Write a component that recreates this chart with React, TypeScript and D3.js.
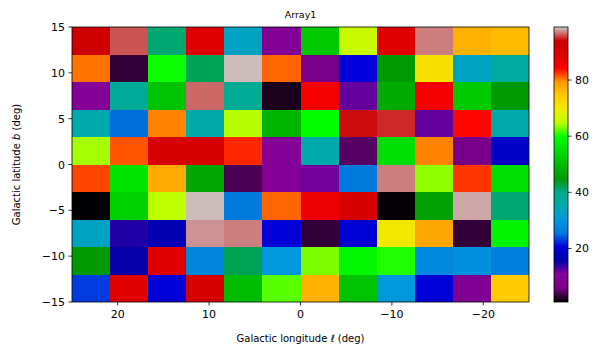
import React from "react";
import * as d3 from "d3";

// ---- data ----
const title = "Array1";
const xLabel = "Galactic longitude \u2113 (deg)";
const yLabel = "Galactic latitude b (deg)";
const lonRange = [25, -25];
const latRange = [-15, 15];
const xTicks = [20, 10, 0, -10, -20];
const yTicks = [-15, -10, -5, 0, 5, 10, 15];
const cbTicks = [20, 40, 60, 80];
const vmin = 0.94;
const vmax = 98.9;
// rows from top (b = 15) to bottom (b = -15); columns from l = 25 to l = -25
const grid: number[][] = [
  [93, 96, 41, 89, 33, 9, 52, 66, 89, 97, 77, 76],
  [80.5, 3, 60, 42, 98.5, 81, 6, 20.5, 45, 71.5, 33, 37],
  [10, 38, 51, 96.5, 38.5, 2, 86, 12, 47.5, 86, 52, 45],
  [35, 25, 80, 35.5, 64.5, 49, 59.5, 94.3, 95, 12, 84, 35],
  [64, 81.5, 91, 91.5, 83, 10, 35, 4.5, 55, 80, 6, 18.5],
  [82, 56, 77.5, 47, 4, 10, 11.5, 26, 97, 63.5, 82.5, 55],
  [1, 53, 65, 98.5, 26, 81, 87, 91, 1.2, 46, 98, 41],
  [33, 14.5, 16.5, 97.5, 97, 20, 3, 19.5, 70.5, 78, 3, 58],
  [45, 15.5, 88.5, 27.5, 42, 30, 63, 58.5, 60.5, 28, 29, 26.5],
  [23, 88.5, 20, 91, 50, 62, 77, 51, 30, 20, 8.5, 74.5],
];

// nipy_spectral colormap stops
const cmapPos = [0, 0.05, 0.1, 0.15, 0.2, 0.25, 0.3, 0.35, 0.4, 0.45, 0.5, 0.55, 0.6, 0.65, 0.7, 0.75, 0.8, 0.85, 0.9, 0.95, 1.0];
const cmapR = [0, 0.4667, 0.5333, 0, 0, 0, 0, 0, 0, 0, 0, 0, 0, 0.7333, 0.9333, 1, 1, 1, 0.8667, 0.8, 0.8];
const cmapG = [0, 0, 0, 0, 0, 0.4667, 0.6, 0.6667, 0.6667, 0.6, 0.7333, 0.8667, 1, 1, 0.9333, 0.8, 0.6, 0, 0, 0, 0.8];
const cmapB = [0, 0.5333, 0.6, 0.6667, 0.8667, 0.8667, 0.8667, 0.6667, 0.5333, 0, 0, 0, 0, 0, 0, 0, 0, 0, 0, 0, 0.8];

const stopColors = cmapPos.map((_, i) =>
  d3.rgb(cmapR[i] * 255, cmapG[i] * 255, cmapB[i] * 255).formatHex()
);
const cmap = d3
  .scaleLinear<string>()
  .domain(cmapPos)
  .range(stopColors)
  .interpolate(d3.interpolateRgb)
  .clamp(true);

const W = 604;
const H = 358;
const ax = { left: 72, right: 529, top: 27, bottom: 302 };
const cb = { left: 554, right: 568, top: 27, bottom: 302 };
const font = "DejaVu Sans, sans-serif";

export default function App() {
  const x = d3.scaleLinear().domain(lonRange).range([ax.left, ax.right]);
  const y = d3.scaleLinear().domain(latRange).range([ax.bottom, ax.top]);
  const norm = d3.scaleLinear().domain([vmin, vmax]).range([0, 1]);
  const cbY = d3.scaleLinear().domain([vmin, vmax]).range([cb.bottom, cb.top]);

  const nRows = grid.length;
  const nCols = grid[0].length;
  const lonEdges = d3.range(nCols + 1).map((i) => lonRange[0] + ((lonRange[1] - lonRange[0]) * i) / nCols);
  const latEdges = d3.range(nRows + 1).map((j) => latRange[1] - ((latRange[1] - latRange[0]) * j) / nRows);

  const cells: React.ReactNode[] = [];
  grid.forEach((row, j) => {
    row.forEach((v, i) => {
      const x0 = x(lonEdges[i]);
      const x1 = x(lonEdges[i + 1]);
      const y0 = y(latEdges[j]);
      const y1 = y(latEdges[j + 1]);
      cells.push(
        <rect
          key={`${j}-${i}`}
          x={x0}
          y={y0}
          width={x1 - x0 + 0.3}
          height={y1 - y0 + 0.3}
          fill={cmap(norm(v))}
          shapeRendering="crispEdges"
        />
      );
    });
  });

  return (
    <svg width={W} height={H} style={{ display: "block", position: "absolute", left: 0, top: 0 }} fontFamily={font}>
      <defs>
        <linearGradient id="cbgrad" x1="0" y1="1" x2="0" y2="0">
          {cmapPos.map((p, i) => (
            <stop key={i} offset={p} stopColor={stopColors[i]} />
          ))}
        </linearGradient>
      </defs>
      <rect x={0} y={0} width={W} height={H} fill="#fff" />
      {cells}
      <rect x={ax.left} y={ax.top} width={ax.right - ax.left} height={ax.bottom - ax.top} fill="none" stroke="#000" strokeWidth={0.8} />
      {xTicks.map((t) => (
        <g key={`xt${t}`}>
          <line x1={x(t)} x2={x(t)} y1={ax.bottom} y2={ax.bottom + 3.5} stroke="#000" strokeWidth={0.8} />
          <text x={x(t)} y={ax.bottom + 16} textAnchor="middle" fontSize={11} fill="#000">
            {t < 0 ? `\u2212${-t}` : `${t}`}
          </text>
        </g>
      ))}
      {yTicks.map((t) => (
        <g key={`yt${t}`}>
          <line x1={ax.left - 3.5} x2={ax.left} y1={y(t)} y2={y(t)} stroke="#000" strokeWidth={0.8} />
          <text x={ax.left - 7} y={y(t) + 4} textAnchor="end" fontSize={11} fill="#000">
            {t < 0 ? `\u2212${-t}` : `${t}`}
          </text>
        </g>
      ))}
      <text x={(ax.left + ax.right) / 2} y={18} textAnchor="middle" fontSize={9.5} fill="#000">
        {title}
      </text>
      <text x={(ax.left + ax.right) / 2} y={342} textAnchor="middle" fontSize={10} fill="#000">
        Galactic longitude <tspan fontStyle="italic">{"\u2113"}</tspan> (deg)
      </text>
      <text
        transform={`translate(20, ${(ax.top + ax.bottom) / 2}) rotate(-90)`}
        textAnchor="middle"
        fontSize={10}
        fill="#000"
      >
        Galactic latitude <tspan fontStyle="italic">b</tspan> (deg)
      </text>
      <rect x={cb.left} y={cb.top} width={cb.right - cb.left} height={cb.bottom - cb.top} fill="url(#cbgrad)" />
      <rect x={cb.left} y={cb.top} width={cb.right - cb.left} height={cb.bottom - cb.top} fill="none" stroke="#000" strokeWidth={0.8} />
      {cbTicks.map((t) => (
        <g key={`cb${t}`}>
          <line x1={cb.right} x2={cb.right + 3.5} y1={cbY(t)} y2={cbY(t)} stroke="#000" strokeWidth={0.8} />
          <text x={cb.right + 7} y={cbY(t) + 4} textAnchor="start" fontSize={11} fill="#000">
            {t}
          </text>
        </g>
      ))}
    </svg>
  );
}
